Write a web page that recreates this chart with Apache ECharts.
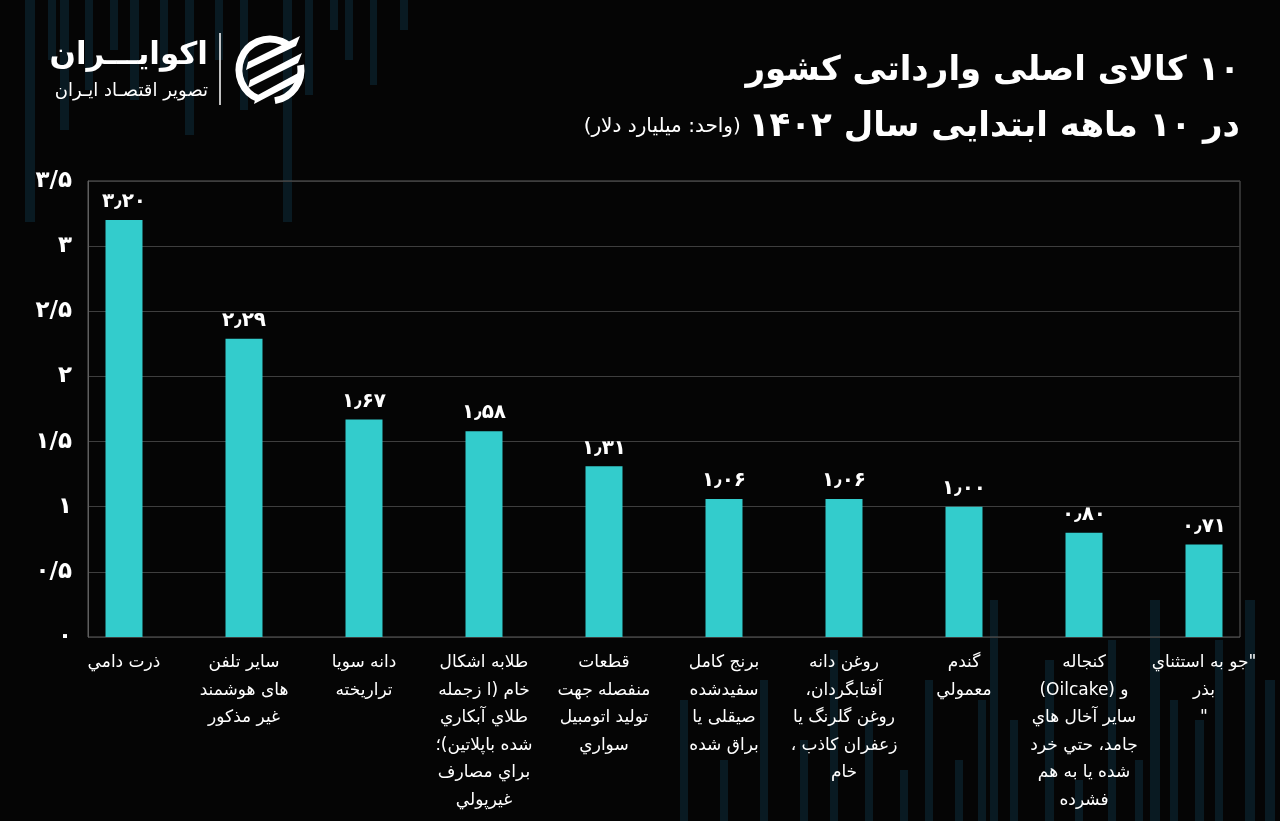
<!DOCTYPE html>
<html>
<head>
<meta charset="utf-8">
<script src="https://cdn.jsdelivr.net/npm/echarts@6/dist/echarts.min.js"></script>
<style>
html,body{margin:0;padding:0;background:#050505;}
#chart{width:1280px;height:821px;}
</style>
</head>
<body>
<div id="chart"></div>
<script>
// ---------- data ----------
const categories = [
  'ذرت دامي',
  'ساير تلفن\nهای هوشمند\nغير مذكور',
  'دانه سويا\nتراريخته',
  'طلابه اشكال\nخام (ا زجمله\nطلاي آبكاري\nشده باپلاتين)؛\nبراي مصارف\nغيرپولي',
  'قطعات\nمنفصله جهت\nتوليد اتومبيل\nسواري',
  'برنج كامل\nسفيدشده\nصيقلی يا\nبراق شده',
  'روغن دانه\nآفتابگردان،\nروغن گلرنگ يا\nزعفران كاذب ،\nخام',
  'گندم\nمعمولي',
  'كنجاله\nو (Oilcake)\nساير آخال هاي\nجامد، حتي خرد\nشده يا به هم\nفشرده',
  '"جو به استثناي\nبذر\n"'
];
const values = [3.20, 2.29, 1.67, 1.58, 1.31, 1.06, 1.06, 1.00, 0.80, 0.71];
const yTicks = [0, 0.5, 1, 1.5, 2, 2.5, 3, 3.5];
const titleLine1 = '۱۰ کالای اصلی وارداتی کشور';
const titleLine2 = 'در ۱۰ ماهه ابتدایی سال ۱۴۰۲';
const unitText = '(واحد: میلیارد دلار)';
const logoName = 'اکوایـــران';
const logoSub = 'تصویر اقتصـاد ایـران';

// ---------- helpers ----------
const FA = '۰۱۲۳۴۵۶۷۸۹';
const fa = s => String(s).replace(/\d/g, d => FA[+d]);
const rtl = s => s.split('\n').map(l => '\u202B' + l + '\u202C').join('\n');
const FONT = "'DejaVu Sans', sans-serif";
const TITLE_FONT = 'bold 34px ' + FONT;

const mctx = document.createElement('canvas').getContext('2d');
mctx.font = TITLE_FONT;
const title2Width = mctx.measureText(rtl(titleLine2)).width;

// decorative background stripes
const stripes = [
  [25, 0, 10, 222], [48, 0, 8, 60], [60, 0, 9, 130], [85, 0, 8, 90], [110, 0, 8, 50],
  [130, 0, 9, 100], [160, 0, 8, 70], [185, 0, 9, 135], [215, 0, 8, 60], [240, 0, 8, 110],
  [283, 0, 9, 222], [305, 0, 8, 95], [330, 0, 8, 30], [345, 0, 8, 60], [370, 0, 7, 85],
  [400, 0, 8, 30],
  [990, 600, 8, 221], [1010, 720, 8, 101], [1045, 660, 9, 161], [1075, 780, 8, 41],
  [1108, 640, 8, 181], [1135, 760, 8, 61], [1150, 600, 10, 221], [1170, 700, 8, 121],
  [1195, 720, 9, 101], [1215, 640, 8, 181], [1245, 600, 10, 221], [1265, 680, 10, 141],
  [865, 720, 8, 101], [900, 770, 8, 51], [925, 680, 8, 141], [955, 760, 8, 61], [978, 700, 8, 121],
  [680, 700, 8, 121], [720, 760, 8, 61], [760, 680, 8, 141], [800, 740, 8, 81], [830, 650, 8, 171]
];

const chart = echarts.init(document.getElementById('chart'));

const graphics = [];
stripes.forEach(s => graphics.push({
  type: 'rect', z: -10, silent: true,
  shape: { x: s[0], y: s[1], width: s[2], height: s[3] },
  style: { fill: '#0a1d26', opacity: 0.9 }
}));
// titles
graphics.push(
  { type: 'text', z: 10,
    style: { x: 1240, y: 54, text: rtl(titleLine1), fill: '#ffffff', font: TITLE_FONT, textAlign: 'right', textVerticalAlign: 'top' } },
  { type: 'text', z: 10,
    style: { x: 1240, y: 110, text: rtl(titleLine2), fill: '#ffffff', font: TITLE_FONT, textAlign: 'right', textVerticalAlign: 'top' } },
  { type: 'text', z: 10,
    style: { x: 1240 - title2Width - 8, y: 117, text: rtl(unitText), fill: '#ffffff', font: '20px ' + FONT, textAlign: 'right', textVerticalAlign: 'top' } }
);
// logo
graphics.push(
  { type: 'text', z: 10,
    style: { x: 208, y: 40, text: rtl(logoName), fill: '#ffffff', font: 'bold 31px ' + FONT, textAlign: 'right', textVerticalAlign: 'top' } },
  { type: 'text', z: 10,
    style: { x: 208, y: 82, text: rtl(logoSub), fill: '#ffffff', font: '18px ' + FONT, textAlign: 'right', textVerticalAlign: 'top' } },
  { type: 'line', z: 10, shape: { x1: 220, y1: 33, x2: 220, y2: 105 },
    style: { stroke: '#ffffff', lineWidth: 1.5 } },
  { type: 'arc', z: 10, shape: { cx: 270, cy: 70, r: 31, startAngle: Math.PI * 0.62, endAngle: Math.PI * 1.72 },
    style: { stroke: '#ffffff', lineWidth: 7, fill: null } },
  { type: 'arc', z: 10, shape: { cx: 270, cy: 70, r: 31, startAngle: Math.PI * 1.95, endAngle: Math.PI * 0.45 },
    style: { stroke: '#ffffff', lineWidth: 7, fill: null } },
  { type: 'polygon', z: 10, shape: { points: [[248, 62], [300, 36], [296, 46], [246, 70]] }, style: { fill: '#ffffff' } },
  { type: 'polygon', z: 10, shape: { points: [[250, 80], [302, 53], [298, 63], [248, 88]] }, style: { fill: '#ffffff' } },
  { type: 'polygon', z: 10, shape: { points: [[256, 96], [300, 72], [296, 82], [254, 104]] }, style: { fill: '#ffffff' } }
);

const option = {
  backgroundColor: '#050505',
  animation: false,
  graphic: graphics,
  grid: [
    { left: 88, right: 40, top: 181, bottom: 184, show: true, borderColor: '#5f5f5f', borderWidth: 1, backgroundColor: 'transparent' },
    { left: 64, right: 16, top: 181, bottom: 184 }
  ],
  xAxis: [
    { type: 'category', gridIndex: 0, data: categories, show: false },
    { type: 'category', gridIndex: 1, data: categories,
      axisLine: { show: false }, axisTick: { show: false },
      axisLabel: { interval: 0, color: '#ffffff', fontFamily: FONT, fontSize: 17, lineHeight: 27.5,
        margin: 12, align: 'center', formatter: v => rtl(v) } }
  ],
  yAxis: [
    { type: 'value', gridIndex: 0, min: yTicks[0], max: yTicks[yTicks.length - 1], interval: yTicks[1] - yTicks[0],
      axisLine: { show: true, lineStyle: { color: '#5f5f5f' } }, axisTick: { show: false },
      splitLine: { show: true, lineStyle: { color: '#3e3e3e', width: 1 } },
      axisLabel: { color: '#ffffff', fontFamily: FONT, fontSize: 23, fontWeight: 'bold', margin: 16,
        formatter: v => fa(String(v).replace('.', '/')) } },
    { type: 'value', gridIndex: 1, min: yTicks[0], max: yTicks[yTicks.length - 1], show: false, splitLine: { show: false } }
  ],
  series: [{
    type: 'bar', xAxisIndex: 1, yAxisIndex: 1, data: values, barWidth: 37,
    itemStyle: { color: '#33cccc' },
    label: { show: true, position: 'top', distance: 8, color: '#ffffff', fontFamily: FONT, fontSize: 20, fontWeight: 'bold',
      formatter: p => fa(p.value.toFixed(2).replace('.', '٫')) }
  }]
};
chart.setOption(option);
</script>
</body>
</html>
